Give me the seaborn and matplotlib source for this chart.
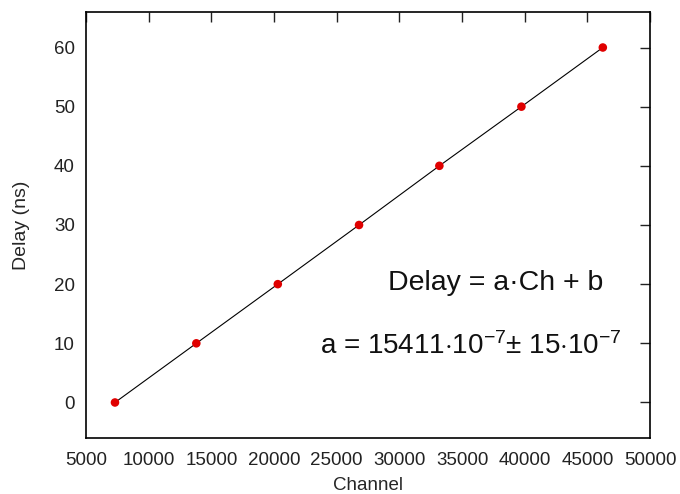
import matplotlib
matplotlib.use("Agg")
import matplotlib.pyplot as plt
import seaborn as sns
import pandas as pd

channel = [7310, 13800, 20300, 26780, 33190, 39735, 46230]
delay = [0, 10, 20, 30, 40, 50, 60]
x_ticks = [5000, 10000, 15000, 20000, 25000, 30000, 35000, 40000, 45000, 50000]
y_ticks = [0, 10, 20, 30, 40, 50, 60]

sns.set_theme(style="white")
plt.rcParams['font.family'] = ['Liberation Sans', 'DejaVu Sans']
plt.rcParams['mathtext.fontset'] = 'custom'
plt.rcParams['mathtext.rm'] = 'Liberation Sans'
plt.rcParams['mathtext.it'] = 'Liberation Sans'

df = pd.DataFrame({"Channel": channel, "Delay": delay})

fig = plt.figure(figsize=(6.8, 4.94), dpi=100)
ax = fig.add_axes([0.1265, 0.1134, 0.8295, 0.8623])

sns.lineplot(data=df, x="Channel", y="Delay", ax=ax, color="black", linewidth=0.8)
sns.scatterplot(data=df, x="Channel", y="Delay", ax=ax, color="#e00000",
                s=38, edgecolor="none", zorder=3)

ax.set_xlim(5000, 50000)
ax.set_ylim(-6, 66)
ax.set_xticks(x_ticks)
ax.set_yticks(y_ticks)
ax.tick_params(direction="in", length=7, width=1, top=True, right=True,
               labelsize=13.5, colors="#222222", labelcolor="#222222")
ax.tick_params(axis="y", pad=8)
ax.tick_params(axis="x", pad=10)
for s in ax.spines.values():
    s.set_linewidth(1.2)
    s.set_color("black")
ax.set_xlabel("Channel", fontsize=13.5, labelpad=5.5)
ax.set_ylabel("Delay (ns)", fontsize=14, labelpad=17)

ax.text(0.726, 0.364, "Delay = a\u00b7Ch + b", transform=ax.transAxes,
        ha="center", va="center", fontsize=20.5, color="#111111")
ax.text(0.682, 0.215, "a = 15411$\\cdot$10$^{-7}$\u00b1 15$\\cdot$10$^{-7}$",
        transform=ax.transAxes, ha="center", va="center", fontsize=20, color="#111111")

fig.savefig("out.png", dpi=100)
